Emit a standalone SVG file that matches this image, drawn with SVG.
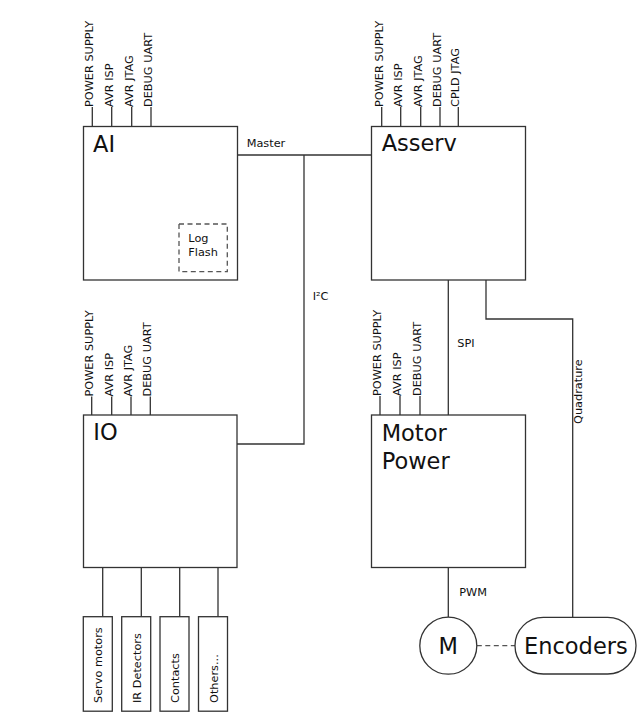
<svg xmlns="http://www.w3.org/2000/svg" width="637" height="719" viewBox="0 0 637 719">
<style>
.box{fill:#fff;stroke:#333;stroke-width:1.3}
.ln{fill:none;stroke:#333;stroke-width:1.3}
.dash{fill:none;stroke:#555;stroke-width:1.3;stroke-dasharray:5,3.5}
text{font-family:"DejaVu Sans","Liberation Sans",sans-serif;fill:#111}
.s{font-size:11.3px}
.b{font-size:22.5px}
</style>
<rect width="637" height="719" fill="#fff"/>
<g id="connectors">
<path class="ln" d="M237.5,155 H371.5"/>
<path class="ln" d="M304,155 V444 H237"/>
<path class="ln" d="M448.3,280 V415"/>
<path class="ln" d="M486,280 V319 H572.7 V617.3"/>
<path class="ln" d="M448.3,567.5 V617.2"/>
<path class="dash" d="M476.8,645.7 H515"/>
<path class="ln" d="M102.7,567.5 V616.7 M141.3,567.5 V616.7 M179.7,567.5 V616.7 M218,567.5 V616.7"/>
<text class="s" x="246.7" y="146.7">Master</text>
<text class="s" x="312.7" y="300">I²C</text>
<text class="s" x="457.3" y="347.3">SPI</text>
<text class="s" transform="translate(582,424) rotate(-90)">Quadrature</text>
<text class="s" x="459.3" y="596">PWM</text>
</g>
<g id="ai">
<path class="ln" d="M92.3,107 V126.5 M111.7,107 V126.5 M131.7,107 V126.5 M151,107 V126.5"/>
<rect class="box" x="83.5" y="126.5" width="154" height="153.5"/>
<text class="s" transform="translate(93.3,107) rotate(-90)">POWER SUPPLY</text>
<text class="s" transform="translate(112.7,107) rotate(-90)">AVR ISP</text>
<text class="s" transform="translate(132.7,107) rotate(-90)">AVR JTAG</text>
<text class="s" transform="translate(152,107) rotate(-90)">DEBUG UART</text>
<text class="b" x="93" y="152">AI</text>
</g>
<g id="logflash">
<rect class="dash" x="179" y="224" width="48.3" height="47.7"/>
<text class="s" x="188.3" y="242.3">Log</text>
<text class="s" x="188.3" y="255.7">Flash</text>
</g>
<g id="asserv">
<path class="ln" d="M381.7,107 V126.5 M400.7,107 V126.5 M420.7,107 V126.5 M440,107 V126.5 M458.3,107 V126.5"/>
<rect class="box" x="371.5" y="126.5" width="154" height="153.5"/>
<text class="s" transform="translate(382.7,107) rotate(-90)">POWER SUPPLY</text>
<text class="s" transform="translate(401.7,107) rotate(-90)">AVR ISP</text>
<text class="s" transform="translate(421.7,107) rotate(-90)">AVR JTAG</text>
<text class="s" transform="translate(441,107) rotate(-90)">DEBUG UART</text>
<text class="s" transform="translate(459.3,107) rotate(-90)">CPLD JTAG</text>
<text class="b" x="381.7" y="151">Asserv</text>
</g>
<g id="io">
<path class="ln" d="M91.7,396.5 V415 M111.7,396.5 V415 M131,396.5 V415 M150.3,396.5 V415"/>
<rect class="box" x="83.5" y="415" width="153.5" height="152.5"/>
<text class="s" transform="translate(92.7,396.5) rotate(-90)">POWER SUPPLY</text>
<text class="s" transform="translate(112.7,396.5) rotate(-90)">AVR ISP</text>
<text class="s" transform="translate(132,396.5) rotate(-90)">AVR JTAG</text>
<text class="s" transform="translate(151.3,396.5) rotate(-90)">DEBUG UART</text>
<text class="b" x="93.3" y="440">IO</text>
</g>
<g id="motorpower">
<path class="ln" d="M380,396 V415 M400,396 V415 M420,396 V415"/>
<rect class="box" x="371.5" y="415" width="154" height="152.5"/>
<text class="s" transform="translate(381,396) rotate(-90)">POWER SUPPLY</text>
<text class="s" transform="translate(401,396) rotate(-90)">AVR ISP</text>
<text class="s" transform="translate(421,396) rotate(-90)">DEBUG UART</text>
<text class="b" x="381.7" y="440.5">Motor</text>
<text class="b" x="381.7" y="469">Power</text>
</g>
<g id="servo">
<rect class="box" x="83.3" y="616.7" width="29" height="94.5"/>
<text class="s" transform="translate(102,703) rotate(-90)">Servo motors</text>
</g>
<g id="ir">
<rect class="box" x="121.7" y="616.7" width="29" height="94.5"/>
<text class="s" transform="translate(140.5,703) rotate(-90)">IR Detectors</text>
</g>
<g id="contacts">
<rect class="box" x="160" y="616.7" width="29" height="94.5"/>
<text class="s" transform="translate(179,703) rotate(-90)">Contacts</text>
</g>
<g id="others">
<rect class="box" x="198.5" y="616.7" width="29" height="94.5"/>
<text class="s" transform="translate(217.5,703) rotate(-90)">Others...</text>
</g>
<g id="motor">
<circle class="box" cx="448.3" cy="645.7" r="28.5"/>
<text class="b" x="448.3" y="654" text-anchor="middle">M</text>
</g>
<g id="encoders">
<rect class="box" x="515" y="617.3" width="121" height="56.7" rx="28.3" ry="28.3"/>
<text class="b" x="524" y="654.3">Encoders</text>
</g>
</svg>
